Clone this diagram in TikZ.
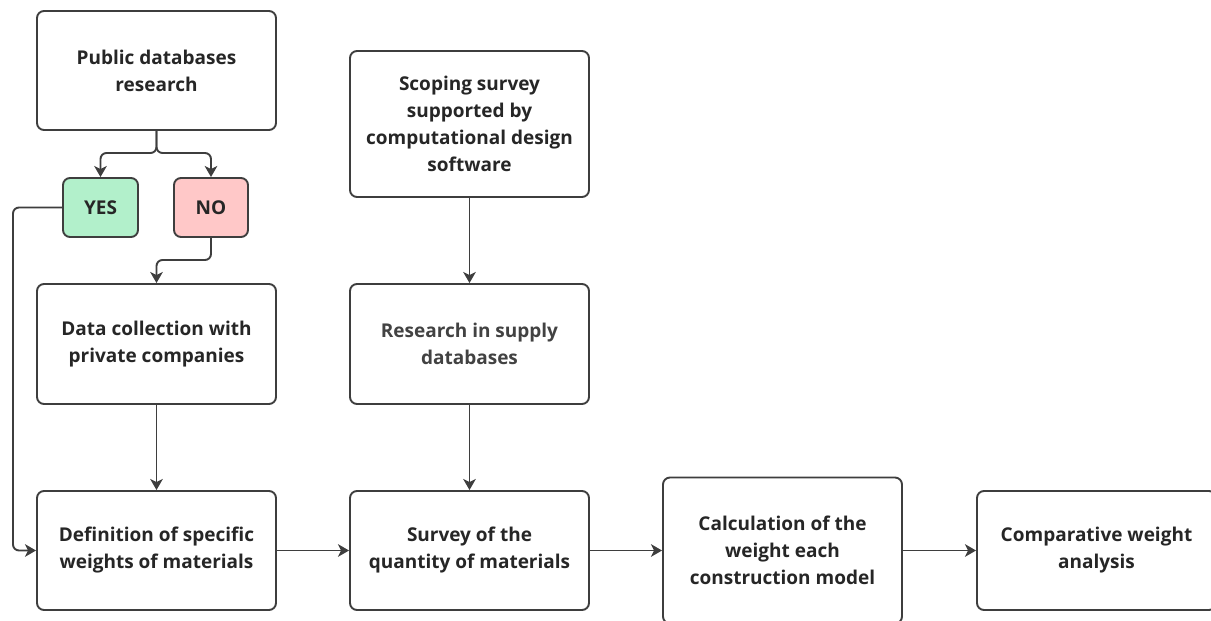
\documentclass[tikz,border=0pt]{standalone}
\usepackage{fontspec}
\setmainfont{Open Sans}
\usetikzlibrary{arrows.meta}
\definecolor{ink}{HTML}{262626}
\definecolor{softink}{HTML}{424242}
\definecolor{edge}{HTML}{3E3E3E}
\definecolor{yesfill}{HTML}{B2F0CB}
\definecolor{nofill}{HTML}{FFC8C8}
\tikzset{
  stepbox/.style={draw=edge, line width=1.9pt, rounded corners=7pt, fill=white,
    align=center, text=ink, font=\fontsize{19}{27}\selectfont\bfseries,
    inner sep=0pt},
  conn/.style={draw=edge, line width=1.9pt, rounded corners=6pt,
    -{Stealth[length=11pt,width=12.5pt,inset=3pt]}},
}
\begin{document}
\begin{tikzpicture}[x=1pt,y=-1pt]
  \clip (0,0) rectangle (1211,621);
  \fill[white] (0,0) rectangle (1211,621);

  % first column
  \node[stepbox, minimum width=239pt, minimum height=119pt] (pub) at (156.5,70.5) {Public databases\\research};
  \node[stepbox, fill=yesfill, minimum width=75pt, minimum height=59pt] (yes) at (100.5,207.5) {YES};
  \node[stepbox, fill=nofill, minimum width=74pt, minimum height=59pt] (no) at (211,207.5) {NO};
  \node[stepbox, minimum width=239pt, minimum height=120pt] (priv) at (156.5,344) {Data collection with\\private companies};
  \node[stepbox, minimum width=239pt, minimum height=119pt] (defw) at (156.5,550.5) {Definition of specific\\weights of materials};

  % second column
  \node[stepbox, minimum width=239pt, minimum height=146pt] (scope) at (469.5,124) {Scoping survey\\supported by\\computational design\\software};
  \node[stepbox, text=softink, minimum width=239pt, minimum height=120pt] (supply) at (469.5,344) {Research in supply\\databases};
  \node[stepbox, minimum width=239pt, minimum height=119pt] (quant) at (469.5,550.5) {Survey of the\\quantity of materials};

  % last steps
  \node[stepbox, minimum width=239pt, minimum height=146pt] (calc) at (782.5,550.5) {Calculation of the\\weight each\\construction model};
  \node[stepbox, minimum width=239pt, minimum height=119pt] (comp) at (1096.5,550.5) {Comparative weight\\analysis};

  % helper points for the bends
  \coordinate (split) at (156.5,153);
  \coordinate (nobend) at (211,260);
  \coordinate (lane) at (13,0);

  % branching from the database research
  \draw[conn] (pub.south) -- (split) -| (yes.north);
  \draw[conn] (pub.south) -- (split) -| (no.north);
  \draw[conn] (no.south) -- (nobend) -| (priv.north);
  \draw[conn] (yes.west) -- (yes.west -| lane) -- (defw.west -| lane) -- (defw.west);

  % vertical flows
  \draw[conn] (priv.south) -- (defw.north);
  \draw[conn] (scope.south) -- (supply.north);
  \draw[conn] (supply.south) -- (quant.north);

  % horizontal chain
  \draw[conn] (defw.east) -- (quant.west);
  \draw[conn] (quant.east) -- (calc.west);
  \draw[conn] (calc.east) -- (comp.west);
\end{tikzpicture}
\end{document}
